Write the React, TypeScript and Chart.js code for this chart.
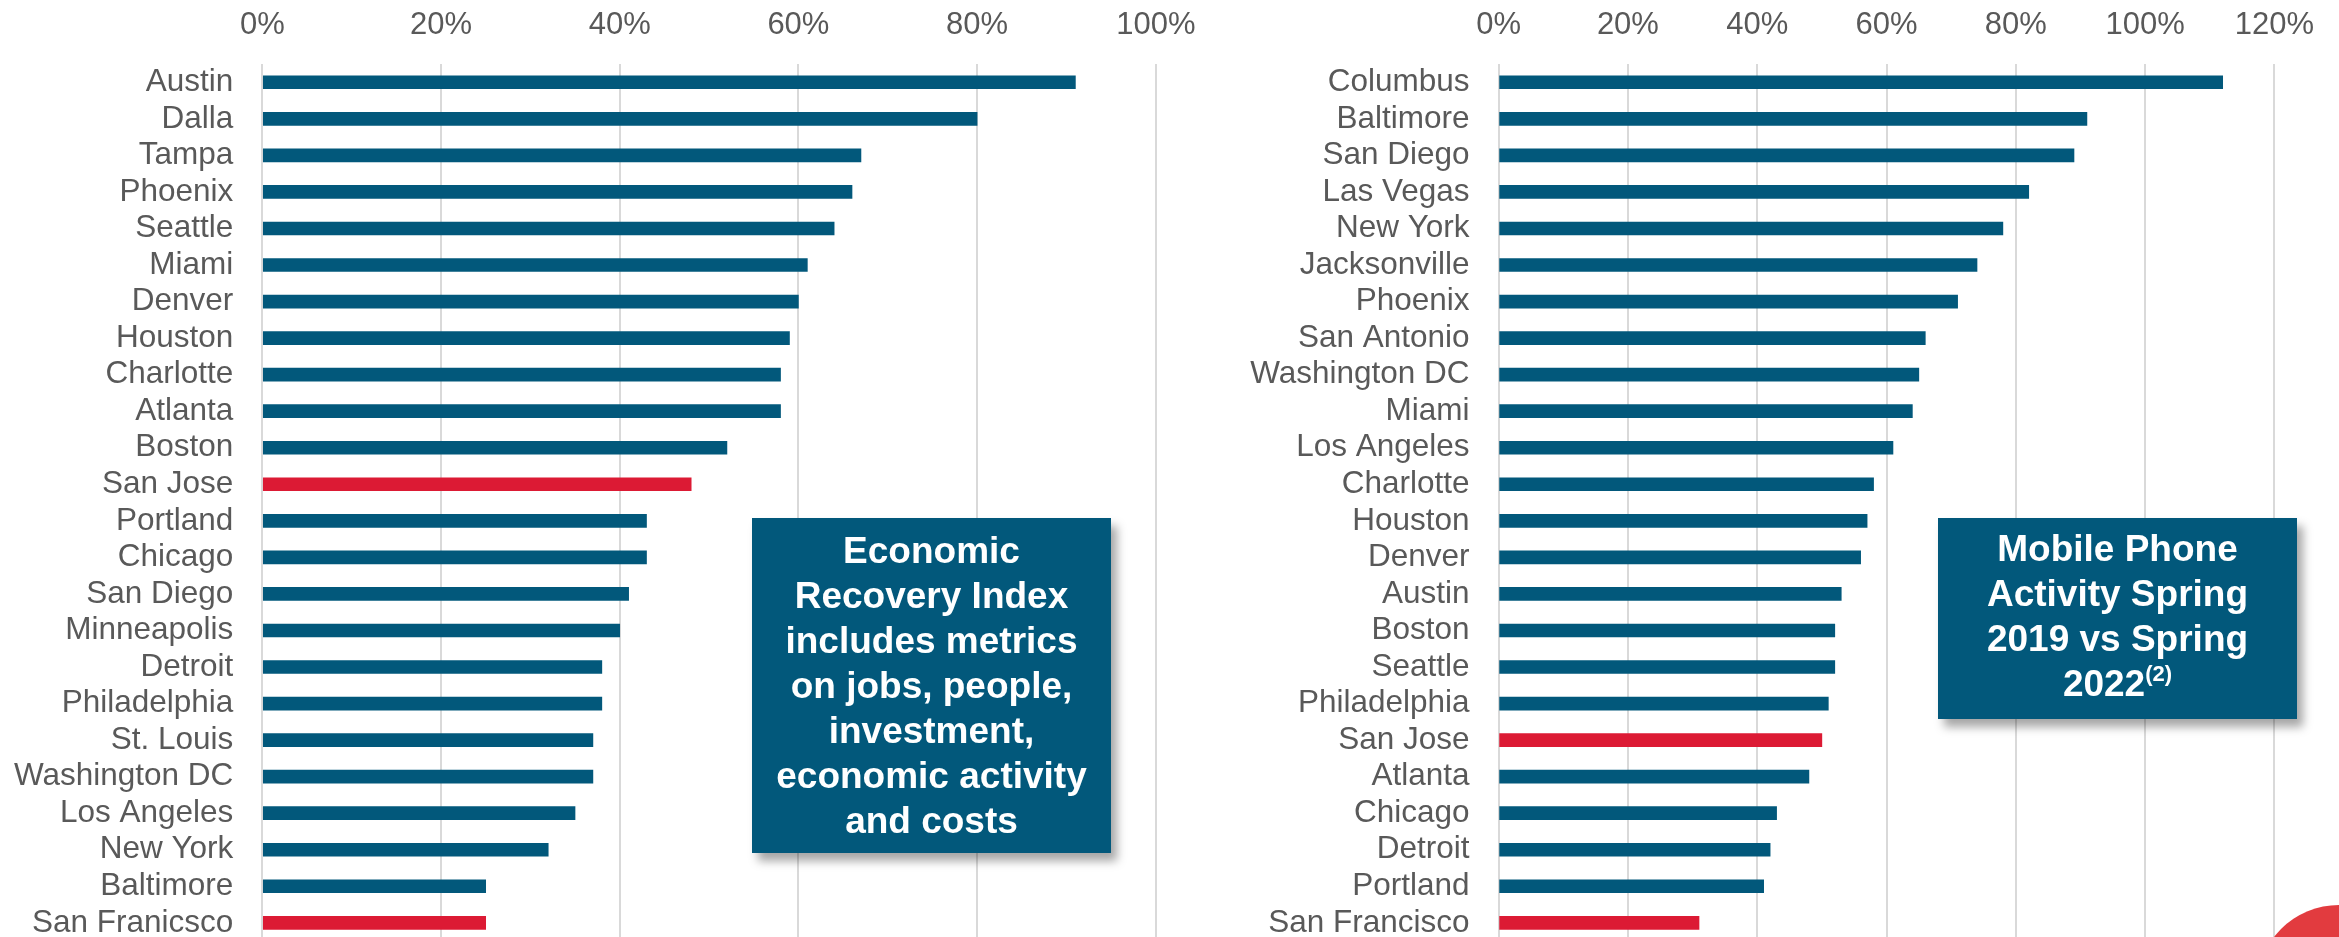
import React, { useEffect, useRef } from "react";
import { Chart, registerables } from "chart.js";

Chart.register(...registerables);

const leftCities = [
  "Austin", "Dalla", "Tampa", "Phoenix", "Seattle", "Miami", "Denver", "Houston",
  "Charlotte", "Atlanta", "Boston", "San Jose", "Portland", "Chicago", "San Diego",
  "Minneapolis", "Detroit", "Philadelphia", "St. Louis", "Washington DC",
  "Los Angeles", "New York", "Baltimore", "San Franicsco",
];
const leftValues = [
  0.91, 0.80, 0.67, 0.66, 0.64, 0.61, 0.60, 0.59, 0.58, 0.58, 0.52, 0.48, 0.43,
  0.43, 0.41, 0.40, 0.38, 0.38, 0.37, 0.37, 0.35, 0.32, 0.25, 0.25,
];
const rightCities = [
  "Columbus", "Baltimore", "San Diego", "Las Vegas", "New York", "Jacksonville",
  "Phoenix", "San Antonio", "Washington DC", "Miami", "Los Angeles", "Charlotte",
  "Houston", "Denver", "Austin", "Boston", "Seattle", "Philadelphia", "San Jose",
  "Atlanta", "Chicago", "Detroit", "Portland", "San Francisco",
];
const rightValues = [
  1.12, 0.91, 0.89, 0.82, 0.78, 0.74, 0.71, 0.66, 0.65, 0.64, 0.61, 0.58, 0.57,
  0.56, 0.53, 0.52, 0.52, 0.51, 0.50, 0.48, 0.43, 0.42, 0.41, 0.31,
];
const highlighted = ["San Jose", "San Franicsco", "San Francisco"];
const leftMax = 1.0;
const rightMax = 1.2;
const tickStep = 0.2;

const BLUE = "#02587B";
const RED = "#DC1A34";
const TEXT = "#595959";
const GRID = "#D9D9D9";
const FONT = '"Liberation Sans", Arial, sans-serif';

const CANVAS_H = 989;
const PLOT_TOP = 64;

type PanelProps = {
  cities: string[];
  values: number[];
  max: number;
  left: number;
  width: number;
  yWidth: number;
  padRight: number;
};

function BarPanel({ cities, values, max, left, width, yWidth, padRight }: PanelProps) {
  const ref = useRef<HTMLCanvasElement>(null);
  useEffect(() => {
    const chart = new Chart(ref.current!, {
      type: "bar",
      data: {
        labels: cities,
        datasets: [
          {
            data: values,
            backgroundColor: cities.map((c) => (highlighted.includes(c) ? RED : BLUE)),
            barThickness: 13,
          },
        ],
      },
      options: {
        indexAxis: "y",
        responsive: false,
        animation: false,
        layout: { padding: { left: 0, right: padRight, top: 0, bottom: 0 } },
        plugins: { legend: { display: false }, tooltip: { enabled: false } },
        scales: {
          x: {
            position: "top",
            min: 0,
            max,
            ticks: {
              stepSize: tickStep,
              padding: 20,
              maxRotation: 0,
              autoSkip: false,
              color: TEXT,
              font: { family: FONT, size: 31 },
              callback: (v: any) => Math.round(Number(v) * 100) + "%",
            },
            grid: { color: GRID, lineWidth: 2, drawTicks: false },
            border: { display: false },
            afterFit: (s: any) => {
              s.height = PLOT_TOP;
            },
          },
          y: {
            ticks: {
              padding: 29,
              autoSkip: false,
              color: TEXT,
              font: { family: FONT, size: 31.5 },
            },
            grid: { display: false, drawTicks: false },
            border: { display: false },
            afterFit: (s: any) => {
              s.width = yWidth;
            },
          },
        },
      },
    } as any);
    return () => chart.destroy();
  }, []);
  return (
    <canvas
      ref={ref}
      width={width}
      height={CANVAS_H}
      style={{ position: "absolute", left, top: 0, width, height: CANVAS_H }}
    />
  );
}

const boxStyle: React.CSSProperties = {
  position: "absolute",
  background: BLUE,
  color: "#FFFFFF",
  fontFamily: FONT,
  fontWeight: "bold",
  fontSize: 37,
  lineHeight: "45px",
  textAlign: "center",
  whiteSpace: "nowrap",
  display: "flex",
  alignItems: "center",
  justifyContent: "center",
  boxShadow: "6px 8px 9px rgba(0,0,0,0.35)",
  zIndex: 2,
};

export default function App() {
  return (
    <div
      style={{
        position: "absolute",
        left: 0,
        top: 0,
        width: 2339,
        height: 937,
        overflow: "hidden",
        background: "#FFFFFF",
      }}
    >
      <BarPanel
        cities={leftCities}
        values={leftValues}
        max={leftMax}
        left={0}
        width={1240}
        yWidth={262.3}
        padRight={1240 - 1155.8}
      />
      <BarPanel
        cities={rightCities}
        values={rightValues}
        max={rightMax}
        left={1180}
        width={1159}
        yWidth={1498.6 - 1180}
        padRight={2339 - 2274.4}
      />
      <div style={{ ...boxStyle, left: 752, top: 518, width: 359, height: 335 }}>
        <div>
          Economic
          <br />
          Recovery Index
          <br />
          includes metrics
          <br />
          on jobs, people,
          <br />
          investment,
          <br />
          economic activity
          <br />
          and costs
        </div>
      </div>
      <div style={{ ...boxStyle, left: 1938, top: 518, width: 359, height: 201 }}>
        <div>
          Mobile Phone
          <br />
          Activity Spring
          <br />
          2019 vs Spring
          <br />
          2022
          <span style={{ fontSize: 22, position: "relative", top: -15 }}>(2)</span>
        </div>
      </div>
      <div
        style={{
          position: "absolute",
          left: 2339 - 82,
          top: 987 - 82,
          width: 164,
          height: 164,
          borderRadius: "50%",
          background: "#E23B3F",
          zIndex: 3,
        }}
      />
    </div>
  );
}
